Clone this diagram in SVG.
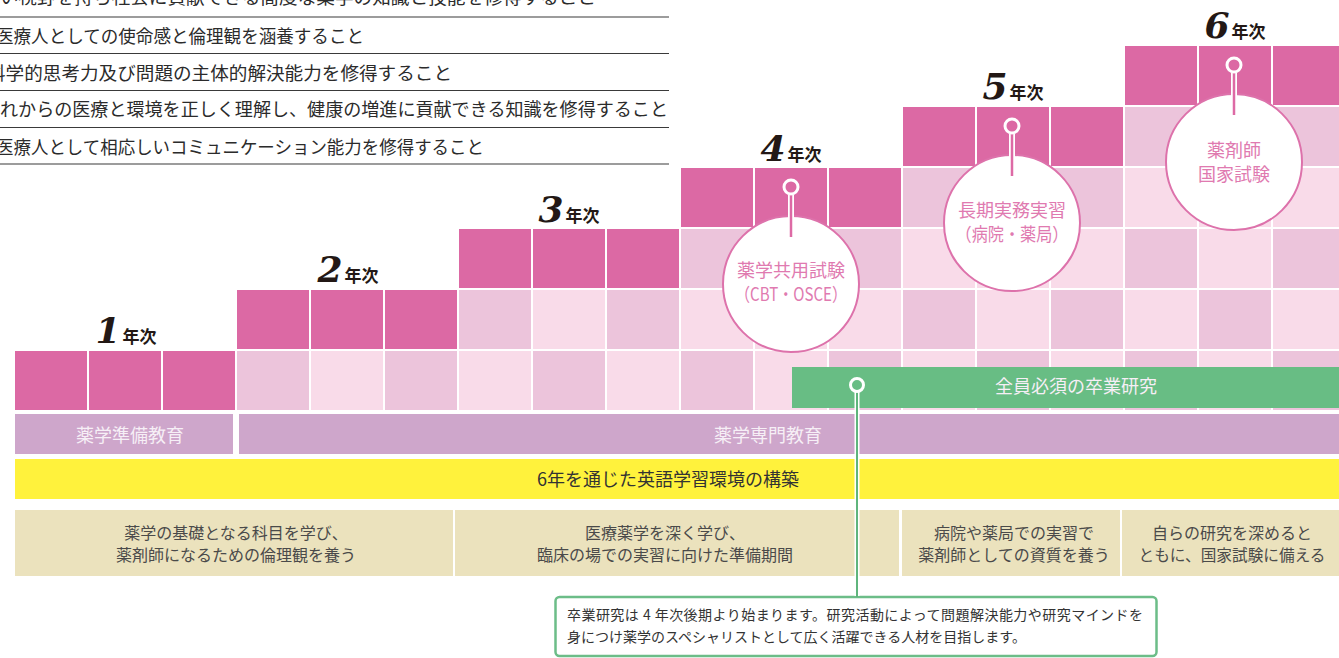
<svg xmlns="http://www.w3.org/2000/svg" width="1339" height="658" viewBox="0 0 1339 658">
<style>
.dk{fill:#dc69a4}
.ta{fill:#ecc4db}
.tb{fill:#f9dbe9}
.jp{font-family:"Noto Sans CJK JP","Noto Sans CJK SC",sans-serif}
.goal{font-size:18px;fill:#2b2b2b}
.rule{stroke:#3a3a3a;stroke-width:1.2}
.num{font-family:"DejaVu Serif","Liberation Serif",serif;font-weight:bold;font-style:italic;font-size:36px;fill:#231815}
.nen{font-family:"Noto Sans CJK JP","Noto Sans CJK SC",sans-serif;font-weight:bold;font-size:17px;fill:#231815}
.bubble{fill:#fff;stroke:#dd72ab;stroke-width:2}
.btxt{font-size:18px;fill:#e07ab0}
.band{font-size:18px;fill:#f6eff6}
.desc{font-size:16px;fill:#4a4a4a}
.note{font-size:14px;fill:#333}
.ring{fill:none;stroke:#fff;stroke-width:3}
</style>

<g id="goals" class="jp goal">
  <text x="-19" y="4" textLength="615" lengthAdjust="spacingAndGlyphs">広い視野を持ち社会に貢献できる高度な薬学の知識と技能を修得すること</text>
  <text x="-4" y="43" textLength="368" lengthAdjust="spacingAndGlyphs">医療人としての使命感と倫理観を涵養すること</text>
  <text x="-13" y="80" textLength="465" lengthAdjust="spacingAndGlyphs">科学的思考力及び問題の主体的解決能力を修得すること</text>
  <text x="-18" y="116" textLength="686" lengthAdjust="spacingAndGlyphs">これからの医療と環境を正しく理解し、健康の増進に貢献できる知識を修得すること</text>
  <text x="-4" y="154" textLength="488" lengthAdjust="spacingAndGlyphs">医療人として相応しいコミュニケーション能力を修得すること</text>
  <line class="rule" x1="0" y1="17" x2="669" y2="17"/>
  <line class="rule" x1="0" y1="53.5" x2="669" y2="53.5"/>
  <line class="rule" x1="0" y1="90.5" x2="669" y2="90.5"/>
  <line class="rule" x1="0" y1="127.5" x2="669" y2="127.5"/>
  <line class="rule" x1="0" y1="164" x2="669" y2="164"/>
</g>

<g id="year1">
  <rect class="dk" x="15" y="351" width="72" height="59"/>
  <rect class="dk" x="89" y="351" width="72" height="59"/>
  <rect class="dk" x="163" y="351" width="72" height="59"/>
  <text x="126" y="343" text-anchor="middle"><tspan class="num">1</tspan><tspan class="nen" dx="2">年次</tspan></text>
</g>

<g id="year2">
  <rect class="dk" x="237" y="290" width="72" height="59"/>
  <rect class="dk" x="311" y="290" width="72" height="59"/>
  <rect class="dk" x="385" y="290" width="72" height="59"/>
  <rect class="ta" x="237" y="351" width="72" height="59"/>
  <rect class="tb" x="311" y="351" width="72" height="59"/>
  <rect class="ta" x="385" y="351" width="72" height="59"/>
  <text x="348" y="282" text-anchor="middle"><tspan class="num">2</tspan><tspan class="nen" dx="2">年次</tspan></text>
</g>

<g id="year3">
  <rect class="dk" x="459" y="229" width="72" height="59"/>
  <rect class="dk" x="533" y="229" width="72" height="59"/>
  <rect class="dk" x="607" y="229" width="72" height="59"/>
  <rect class="ta" x="459" y="290" width="72" height="59"/>
  <rect class="tb" x="533" y="290" width="72" height="59"/>
  <rect class="ta" x="607" y="290" width="72" height="59"/>
  <rect class="tb" x="459" y="351" width="72" height="59"/>
  <rect class="ta" x="533" y="351" width="72" height="59"/>
  <rect class="tb" x="607" y="351" width="72" height="59"/>
  <text x="569" y="222" text-anchor="middle"><tspan class="num">3</tspan><tspan class="nen" dx="2">年次</tspan></text>
</g>

<g id="year4">
  <rect class="dk" x="681" y="168" width="72" height="59"/>
  <rect class="dk" x="755" y="168" width="72" height="59"/>
  <rect class="dk" x="829" y="168" width="72" height="59"/>
  <rect class="ta" x="681" y="229" width="72" height="59"/>
  <rect class="ta" x="755" y="229" width="72" height="59"/>
  <rect class="ta" x="829" y="229" width="72" height="59"/>
  <rect class="tb" x="681" y="290" width="72" height="59"/>
  <rect class="tb" x="755" y="290" width="72" height="59"/>
  <rect class="tb" x="829" y="290" width="72" height="59"/>
  <rect class="ta" x="681" y="351" width="72" height="59"/>
  <rect class="tb" x="755" y="351" width="72" height="59"/>
  <rect class="ta" x="829" y="351" width="72" height="59"/>
  <text x="791" y="161" text-anchor="middle"><tspan class="num">4</tspan><tspan class="nen" dx="2">年次</tspan></text>
</g>

<g id="year5">
  <rect class="dk" x="903" y="107" width="72" height="59"/>
  <rect class="dk" x="977" y="107" width="72" height="59"/>
  <rect class="dk" x="1051" y="107" width="72" height="59"/>
  <rect class="ta" x="903" y="168" width="72" height="59"/>
  <rect class="ta" x="977" y="168" width="72" height="59"/>
  <rect class="ta" x="1051" y="168" width="72" height="59"/>
  <rect class="tb" x="903" y="229" width="72" height="59"/>
  <rect class="tb" x="977" y="229" width="72" height="59"/>
  <rect class="tb" x="1051" y="229" width="72" height="59"/>
  <rect class="ta" x="903" y="290" width="72" height="59"/>
  <rect class="tb" x="977" y="290" width="72" height="59"/>
  <rect class="ta" x="1051" y="290" width="72" height="59"/>
  <rect class="tb" x="903" y="351" width="72" height="59"/>
  <rect class="ta" x="977" y="351" width="72" height="59"/>
  <rect class="tb" x="1051" y="351" width="72" height="59"/>
  <text x="1013" y="99" text-anchor="middle"><tspan class="num">5</tspan><tspan class="nen" dx="2">年次</tspan></text>
</g>

<g id="year6">
  <rect class="dk" x="1125" y="46" width="72" height="59"/>
  <rect class="dk" x="1199" y="46" width="72" height="59"/>
  <rect class="dk" x="1273" y="46" width="72" height="59"/>
  <rect class="ta" x="1125" y="107" width="72" height="59"/>
  <rect class="ta" x="1199" y="107" width="72" height="59"/>
  <rect class="ta" x="1273" y="107" width="72" height="59"/>
  <rect class="tb" x="1125" y="168" width="72" height="59"/>
  <rect class="tb" x="1199" y="168" width="72" height="59"/>
  <rect class="tb" x="1273" y="168" width="72" height="59"/>
  <rect class="ta" x="1125" y="229" width="72" height="59"/>
  <rect class="tb" x="1199" y="229" width="72" height="59"/>
  <rect class="ta" x="1273" y="229" width="72" height="59"/>
  <rect class="tb" x="1125" y="290" width="72" height="59"/>
  <rect class="ta" x="1199" y="290" width="72" height="59"/>
  <rect class="tb" x="1273" y="290" width="72" height="59"/>
  <rect class="ta" x="1125" y="351" width="72" height="59"/>
  <rect class="tb" x="1199" y="351" width="72" height="59"/>
  <rect class="ta" x="1273" y="351" width="72" height="59"/>
  <text x="1235" y="38" text-anchor="middle"><tspan class="num">6</tspan><tspan class="nen" dx="2">年次</tspan></text>
</g>

<g id="graduation-research">
  <rect x="792" y="367" width="547" height="41" fill="#68bd84"/>
  <text class="jp band" x="1076" y="393" text-anchor="middle">全員必須の卒業研究</text>
</g>

<g id="prep-education">
  <rect x="15" y="414" width="218" height="40" fill="#cea6cb"/>
  <text class="jp band" x="130" y="442" text-anchor="middle">薬学準備教育</text>
</g>

<g id="specialized-education">
  <rect x="239" y="414" width="1100" height="40" fill="#cea6cb"/>
  <text class="jp band" x="768" y="442" text-anchor="middle">薬学専門教育</text>
</g>

<g id="english">
  <rect x="15" y="459" width="1324" height="40" fill="#fff23c"/>
  <text class="jp" x="668" y="486" text-anchor="middle" font-size="18" fill="#333">6年を通じた英語学習環境の構築</text>
</g>

<g id="phase1">
  <rect x="15" y="510" width="438" height="66" fill="#ebe2bd"/>
  <text class="jp desc" x="236" y="539" text-anchor="middle">薬学の基礎となる科目を学び、</text>
  <text class="jp desc" x="236" y="561" text-anchor="middle">薬剤師になるための倫理観を養う</text>
</g>
<g id="phase2">
  <rect x="455" y="510" width="400" height="66" fill="#ebe2bd"/>
  <rect x="859" y="510" width="40" height="66" fill="#ebe2bd"/>
  <text class="jp desc" x="665" y="539" text-anchor="middle">医療薬学を深く学び、</text>
  <text class="jp desc" x="665" y="561" text-anchor="middle">臨床の場での実習に向けた準備期間</text>
</g>
<g id="phase3">
  <rect x="902" y="510" width="218" height="66" fill="#ebe2bd"/>
  <text class="jp desc" x="1014" y="539" text-anchor="middle">病院や薬局での実習で</text>
  <text class="jp desc" x="1014" y="561" text-anchor="middle">薬剤師としての資質を養う</text>
</g>
<g id="phase4">
  <rect x="1122" y="510" width="217" height="66" fill="#ebe2bd"/>
  <text class="jp desc" x="1232" y="539" text-anchor="middle">自らの研究を深めると</text>
  <text class="jp desc" x="1232" y="561" text-anchor="middle" textLength="187" lengthAdjust="spacingAndGlyphs">ともに、国家試験に備える</text>
</g>

<g id="exam-cbt">
  <circle class="bubble" cx="791" cy="284" r="68"/>
  <text class="jp btxt" x="791" y="277" text-anchor="middle">薬学共用試験</text>
  <text class="jp btxt" x="791" y="301" text-anchor="middle" textLength="112" lengthAdjust="spacingAndGlyphs">（CBT・OSCE）</text>
</g>
<g id="practicum">
  <circle class="bubble" cx="1012" cy="223" r="68"/>
  <text class="jp btxt" x="1012" y="217" text-anchor="middle">長期実務実習</text>
  <text class="jp btxt" x="1012" y="241" text-anchor="middle" textLength="113" lengthAdjust="spacingAndGlyphs">（病院・薬局）</text>
</g>
<g id="national-exam">
  <circle class="bubble" cx="1234" cy="162" r="68"/>
  <text class="jp btxt" x="1234" y="157" text-anchor="middle">薬剤師</text>
  <text class="jp btxt" x="1234" y="181" text-anchor="middle">国家試験</text>
</g>

<g id="note">
  <rect x="555.5" y="597" width="601" height="59" rx="4" fill="#fff" stroke="#6cbd88" stroke-width="2.5"/>
  <text class="jp note" x="567" y="620" textLength="576" lengthAdjust="spacing">卒業研究は 4 年次後期より始まります。研究活動によって問題解決能力や研究マインドを</text>
  <text class="jp note" x="567" y="642">身につけ薬学のスペシャリストとして広く活躍できる人材を目指します。</text>
</g>

<g id="connectors">
  <line x1="791" y1="195" x2="791" y2="218" stroke="#fff" stroke-width="6"/>
  <line x1="791" y1="195" x2="791" y2="237" stroke="#dd6aa5" stroke-width="2.5"/>
  <circle class="ring" cx="791" cy="187" r="7"/>
  <line x1="1012" y1="134" x2="1012" y2="157" stroke="#fff" stroke-width="6"/>
  <line x1="1012" y1="134" x2="1012" y2="176" stroke="#dd6aa5" stroke-width="2.5"/>
  <circle class="ring" cx="1012" cy="126" r="7"/>
  <line x1="1234" y1="73" x2="1234" y2="96" stroke="#fff" stroke-width="6"/>
  <line x1="1234" y1="73" x2="1234" y2="115" stroke="#dd6aa5" stroke-width="2.5"/>
  <circle class="ring" cx="1234" cy="65" r="7"/>
  <line x1="857" y1="392" x2="857" y2="596" stroke="#fff" stroke-width="5"/>
  <line x1="857" y1="392" x2="857" y2="597" stroke="#5fb57c" stroke-width="2"/>
  <circle class="ring" cx="857" cy="385" r="6.5"/>
</g>
</svg>
